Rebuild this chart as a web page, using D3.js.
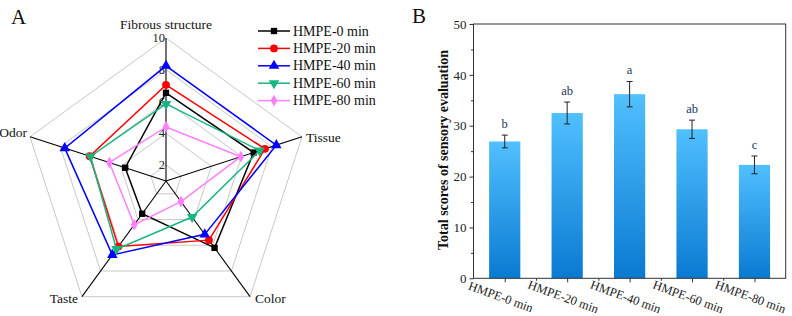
<!DOCTYPE html>
<html><head><meta charset="utf-8">
<script src="https://cdn.jsdelivr.net/npm/d3@7"></script>
<style>
html,body{margin:0;padding:0;background:#fff;}
text{font-family:"Liberation Serif","Times New Roman",serif;}
</style></head>
<body>
<svg id="chart" width="792" height="316"></svg>
<script>
// ---------- Data ----------
const radarAxes = ["Fibrous structure", "Tissue", "Color", "Taste", "Odor"];
const seriesNames = ["HMPE-0 min", "HMPE-20 min", "HMPE-40 min", "HMPE-60 min", "HMPE-80 min"];
const hmpe0  = [6.55, 6.8, 6.2, 3.55, 3.7];
const hmpe20 = [7.05, 7.55, 5.6, 6.1, 6.05];
const hmpe40 = [8.25, 8.3, 5.15, 6.75, 7.7];
const hmpe60 = [5.85, 7.2, 3.8, 6.3, 6.0];
const hmpe80 = [4.4, 5.95, 2.6, 4.4, 4.75];
const radarTicks = [2, 4, 6, 8, 10];

const barCategories = ["HMPE-0 min", "HMPE-20 min", "HMPE-40 min", "HMPE-60 min", "HMPE-80 min"];
const totalScores = [26.9, 32.5, 36.2, 29.3, 22.3];
const totalErrors = [1.25, 2.15, 2.5, 1.8, 1.75];
const sigLetters = ["b", "ab", "a", "ab", "c"];
const barTicks = [0, 10, 20, 30, 40, 50];

// ---------- Styles ----------
const colors = ["#000000", "#ff0000", "#0000ff", "#17b680", "#ff80ff"];
const symbols = [d3.symbolSquare, d3.symbolCircle, d3.symbolTriangle, d3.symbolTriangle, d3.symbolDiamond];
const symRot = [0, 0, 0, 180, 0];
const symSize = [40, 48, 48, 48, 40];

const svg = d3.select("#chart");

// ---------- Panel A: radar ----------
const cx = 166, cy = 181;
const rScale = d3.scaleLinear().domain([1, 10]).range([0, 143]);
const angle = i => (-90 + 72 * i) * Math.PI / 180;
const pt = (v, i) => [cx + rScale(v) * Math.cos(angle(i)), cy + rScale(v) * Math.sin(angle(i))];

const gA = svg.append("g");
radarTicks.forEach(t => {
  gA.append("polygon")
    .attr("points", radarAxes.map((_, i) => pt(t, i).join(",")).join(" "))
    .attr("fill", "none").attr("stroke", "#c8c8c8").attr("stroke-width", 1);
});
radarAxes.forEach((_, i) => {
  const [x, y] = pt(10, i);
  gA.append("line").attr("x1", cx).attr("y1", cy).attr("x2", x).attr("y2", y)
    .attr("stroke", "#000").attr("stroke-width", 1.1);
});
radarTicks.forEach(t => {
  gA.append("text").attr("x", cx - 1).attr("y", cy - rScale(t))
    .attr("text-anchor", "end").attr("dominant-baseline", "central")
    .attr("font-size", 12.5).attr("fill", "#222").text(t);
});
const labelPos = [
  {dx: 0, dy: -14, anchor: "middle"},
  {dx: 4, dy: 1, anchor: "start"},
  {dx: 5, dy: 2, anchor: "start"},
  {dx: -4, dy: 2, anchor: "end"},
  {dx: -3, dy: -4, anchor: "end"}
];
radarAxes.forEach((name, i) => {
  const [x, y] = pt(10, i);
  gA.append("text").attr("x", x + labelPos[i].dx).attr("y", y + labelPos[i].dy)
    .attr("text-anchor", labelPos[i].anchor).attr("dominant-baseline", "central")
    .attr("font-size", 13.5).attr("fill", "#111").text(name);
});
const allSeries = [hmpe0, hmpe20, hmpe40, hmpe60, hmpe80];
const lineGen = d3.line().curve(d3.curveLinearClosed);
allSeries.forEach((vals, s) => {
  const pts = vals.map((v, i) => pt(v, i));
  gA.append("path").attr("d", lineGen(pts)).attr("fill", "none")
    .attr("stroke", colors[s]).attr("stroke-width", 1.5);
  gA.selectAll(null).data(pts).enter().append("path")
    .attr("d", d3.symbol().type(symbols[s]).size(symSize[s]))
    .attr("transform", d => `translate(${d[0]},${d[1]}) rotate(${symRot[s]})`)
    .attr("fill", colors[s]);
});
seriesNames.forEach((name, s) => {
  const y = 31 + s * 17.4;
  gA.append("line").attr("x1", 258).attr("x2", 290).attr("y1", y).attr("y2", y)
    .attr("stroke", colors[s]).attr("stroke-width", 1.5);
  gA.append("path").attr("d", d3.symbol().type(symbols[s]).size(symSize[s]))
    .attr("transform", `translate(274,${y}) rotate(${symRot[s]})`).attr("fill", colors[s]);
  gA.append("text").attr("x", 293).attr("y", y).attr("dominant-baseline", "central")
    .attr("font-size", 14).attr("fill", "#111").text(name);
});
svg.append("text").attr("x", 11).attr("y", 24).attr("font-size", 21).attr("fill", "#111").text("A");

// ---------- Panel B: bars ----------
const pLeft = 473.5, pRight = 785.7, pTop = 24, pBottom = 278.3;
const xB = d3.scaleLinear().domain([0.5, 5.5]).range([pLeft, pRight]);
const yB = d3.scaleLinear().domain([0, 50]).range([pBottom, pTop]);
const gB = svg.append("g");
const defs = svg.append("defs");
const grad = defs.append("linearGradient").attr("id", "barGrad")
  .attr("x1", 0).attr("y1", 0).attr("x2", 0).attr("y2", 1);
grad.append("stop").attr("offset", "0%").attr("stop-color", "#50c0ff");
grad.append("stop").attr("offset", "100%").attr("stop-color", "#0a7ad2");

const bw = xB(1.25) - xB(0.75);
gB.selectAll("rect.bar").data(totalScores).enter().append("rect")
  .attr("x", (d, i) => xB(i + 1) - bw / 2).attr("y", d => yB(d))
  .attr("width", bw).attr("height", d => pBottom - yB(d))
  .attr("fill", "url(#barGrad)");
totalScores.forEach((v, i) => {
  const xc = xB(i + 1), e = totalErrors[i];
  gB.append("line").attr("x1", xc).attr("x2", xc).attr("y1", yB(v - e)).attr("y2", yB(v + e))
    .attr("stroke", "#222").attr("stroke-width", 1);
  [v - e, v + e].forEach(yy => gB.append("line").attr("x1", xc - 3).attr("x2", xc + 3)
    .attr("y1", yB(yy)).attr("y2", yB(yy)).attr("stroke", "#222").attr("stroke-width", 1));
  gB.append("text").attr("x", xc).attr("y", yB(v + e) - 7).attr("text-anchor", "middle")
    .attr("font-size", 12.5).attr("fill", "#1c3260").text(sigLetters[i]);
});
gB.append("rect").attr("x", pLeft).attr("y", pTop).attr("width", pRight - pLeft).attr("height", pBottom - pTop)
  .attr("fill", "none").attr("stroke", "#333").attr("stroke-width", 1);
const yAxis = d3.axisLeft(yB).tickValues(barTicks).tickSize(4).tickPadding(3);
const gy = gB.append("g").attr("transform", `translate(${pLeft},0)`).call(yAxis);
gy.select(".domain").remove();
gy.selectAll("line").attr("stroke", "#333");
gy.selectAll("text").attr("font-size", 13).attr("fill", "#222").attr("font-family", "Liberation Serif");
const yMinor = d3.axisLeft(yB).tickValues(d3.range(5, 50, 10)).tickSize(2.5).tickFormat("");
const gym = gB.append("g").attr("transform", `translate(${pLeft},0)`).call(yMinor);
gym.select(".domain").remove(); gym.selectAll("line").attr("stroke", "#333");
const xAxis = d3.axisBottom(xB).tickValues([1, 2, 3, 4, 5]).tickSize(4).tickFormat("");
const gx = gB.append("g").attr("transform", `translate(0,${pBottom})`).call(xAxis);
gx.select(".domain").remove(); gx.selectAll("line").attr("stroke", "#333");
const xMinor = d3.axisBottom(xB).tickValues([1.5, 2.5, 3.5, 4.5]).tickSize(2.5).tickFormat("");
const gxm = gB.append("g").attr("transform", `translate(0,${pBottom})`).call(xMinor);
gxm.select(".domain").remove(); gxm.selectAll("line").attr("stroke", "#333");
barCategories.forEach((c, i) => {
  const tx = xB(i + 1) - 4, ty = 297;
  gB.append("text").attr("x", tx).attr("y", ty).attr("text-anchor", "middle")
    .attr("dominant-baseline", "central").attr("font-size", 12.5).attr("fill", "#222")
    .attr("transform", `rotate(20,${tx},${ty})`).text(c);
});
gB.append("text").attr("transform", "translate(443,150) rotate(-90)")
  .attr("text-anchor", "middle").attr("dominant-baseline", "central")
  .attr("font-size", 14).attr("font-weight", "bold").attr("fill", "#111")
  .text("Total scores of sensory evaluation");
svg.append("text").attr("x", 412).attr("y", 23).attr("font-size", 21).attr("fill", "#111").text("B");
</script>
</body></html>
